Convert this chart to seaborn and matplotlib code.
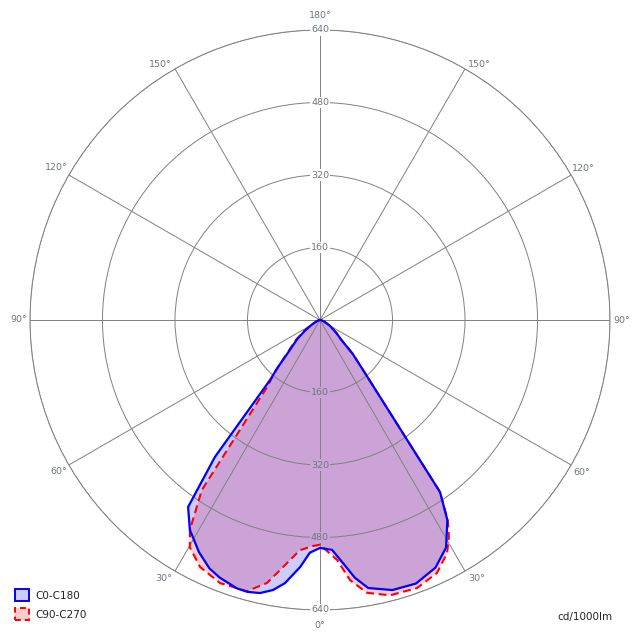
import numpy as np
import matplotlib
matplotlib.use("Agg")
import matplotlib.pyplot as plt
from matplotlib.patches import Patch
from matplotlib.transforms import offset_copy
import seaborn as sns

# ---- data (cd/1000lm) ----
# C0 (right half) / C180 (left half)  -> series "C0-C180"
c0_angles = [0, 3, 5.4, 7.7, 10.2, 15, 20, 25, 29, 32.5, 34.9, 40.7, 44, 47, 52, 60, 70, 80, 90]
c0_values = [503, 508, 539, 574, 601, 617, 619, 603, 574, 523, 463, 146, 104, 65, 45, 25, 10, 3, 0]
c180_angles = [0, 2.5, 4.6, 7.6, 9.9, 12.4, 15, 17.2, 21.3, 24, 27.5, 31.8, 35.2, 37.5, 39.8,
               41.8, 45, 50, 55, 60, 70, 80, 90]
c180_values = [503, 514, 547, 586, 605, 617, 621, 620, 610, 600, 578, 545, 505, 381, 172,
               139, 95, 66, 40, 22, 8, 2, 0]
# C90 (right half) / C270 (left half) -> series "C90-C270"
c90_angles = [0, 4.1, 6.6, 9.8, 14.3, 19.9, 24.8, 28.6, 30.7, 32.5, 34.9, 40.7, 44, 47, 52, 60, 70, 80, 90]
c90_values = [496, 531, 578, 611, 627, 629, 615, 586, 557, 525, 463, 146, 104, 65, 45, 25, 10, 3, 0]
c270_angles = [0, 1.8, 5, 7.7, 11.4, 15.1, 20.8, 25.9, 29.8, 31.8, 34.8, 38.3, 41, 45, 50, 55,
               60, 70, 80, 90]
c270_values = [496, 499, 510, 541, 592, 620, 621, 606, 578, 545, 457, 188, 150, 100, 72, 44,
               24, 8, 2, 0]

series_labels = ["C0-C180", "C90-C270"]
ring_values = [160, 320, 480, 640]
angle_ticks = [0, 30, 60, 90, 120, 150, 180]
unit_label = "cd/1000lm"

# ---- styling ----
sns.set_theme(style="white")
plt.rcParams["font.family"] = ["DejaVu Sans"]

GRID = "#808080"
LABEL = "#6e7680"
BLUE = "#0000ff"
RED = "#ff0000"
BLUE_FILL = (0, 0, 1, 0.2)
RED_FILL = (1, 0, 0, 0.2)
OVERLAP = (0.8, 0.64, 0.84)  # red 0.2 then blue 0.2 over white


def full_curve(left_a, left_v, right_a, right_v):
    th = np.concatenate([-np.array(left_a, float)[::-1], np.array(right_a, float)[1:]])
    r = np.concatenate([np.array(left_v, float)[::-1], np.array(right_v, float)[1:]])
    return np.deg2rad(th), r


th_b, r_b = full_curve(c180_angles, c180_values, c0_angles, c0_values)
th_r, r_r = full_curve(c270_angles, c270_values, c90_angles, c90_values)

fig = plt.figure(figsize=(6.4, 6.4), dpi=100, facecolor="white")
ax = fig.add_axes([30 / 640, 30 / 640, 580 / 640, 580 / 640], projection="polar")
ax.set_facecolor("white")
ax.set_theta_zero_location("S")
ax.set_theta_direction(1)
ax.set_ylim(0, 640)
ax.set_thetagrids(range(0, 360, 30), labels=[""] * 12)
ax.set_rgrids(ring_values, labels=[""] * len(ring_values))
ax.grid(True, color=GRID, lw=0.7)
ax.spines["polar"].set_color(GRID)
ax.spines["polar"].set_linewidth(0.7)
ax.set_axisbelow(False)
for gl in ax.xaxis.get_gridlines() + ax.yaxis.get_gridlines():
    gl.set_zorder(2)

# fills
ax.fill(th_r, r_r, color=RED_FILL, lw=0, zorder=1)
ax.fill(th_b, r_b, color=BLUE_FILL, lw=0, zorder=1.1)

# outlines (blue drawn over the red dashed line)
sns.lineplot(x=th_r, y=r_r, sort=False, estimator=None, color=RED, lw=1.5, ax=ax, zorder=4,
             linestyle=(0, (3.8, 2.2)))
sns.lineplot(x=th_b, y=r_b, sort=False, estimator=None, color=BLUE, lw=1.6, ax=ax, zorder=5)
ax.set_xlabel("")
ax.set_ylabel("")

# radial labels along 180 deg (top) and 0 deg (bottom)
for v in ring_values:
    ax.text(np.pi, v, str(v), ha="center", va="center", fontsize=6.8, color=LABEL, zorder=3,
            bbox=dict(boxstyle="square,pad=0.15", fc="white", ec="none"))
    bg = "white" if v == 640 else OVERLAP
    ax.text(0, v, str(v), ha="center", va="center", fontsize=6.8, color=LABEL, zorder=3,
            bbox=dict(boxstyle="square,pad=0.15", fc=bg, ec="none"))

# angle labels
def put(theta_deg, text, ha, va, dx, dy):
    tr = offset_copy(ax.transData, fig=fig, x=dx, y=dy, units="dots")
    ax.text(np.deg2rad(theta_deg), 640, text, ha=ha, va=va, fontsize=6.8, color=LABEL,
            transform=tr, clip_on=False)

offsets = {30: (3, -7), 60: (2, -7), 90: (3, 0), 120: (1, 7), 150: (3, 4)}
put(0, f"{angle_ticks[0]}°", "center", "center", 0, -15)
put(180, f"{angle_ticks[-1]}°", "center", "center", 0, 14)
for a in angle_ticks[1:-1]:
    dx, dy = offsets[a]
    put(-a, f"{a}°", "right", "center", -dx, dy)
    put(a, f"{a}°", "left", "center", dx, dy)

# legend
handles = [Patch(facecolor=BLUE_FILL, edgecolor=BLUE, lw=1.4),
           Patch(facecolor=RED_FILL, edgecolor=RED, lw=1.4, linestyle=(0, (3, 2)))]
fig.legend(handles, series_labels, loc="lower left",
           bbox_to_anchor=(15 / 640, 20 / 640), bbox_transform=fig.transFigure,
           frameon=False, fontsize=7.5, handlelength=1.35, handleheight=1.35,
           handletextpad=0.6, labelspacing=0.7, borderpad=0, borderaxespad=0,
           labelcolor="#222222")

fig.text(612 / 640, 1 - 617 / 640, unit_label, ha="right", va="center", fontsize=7.5,
         color="#222222")

fig.savefig("out.png", dpi=100, facecolor="white")
